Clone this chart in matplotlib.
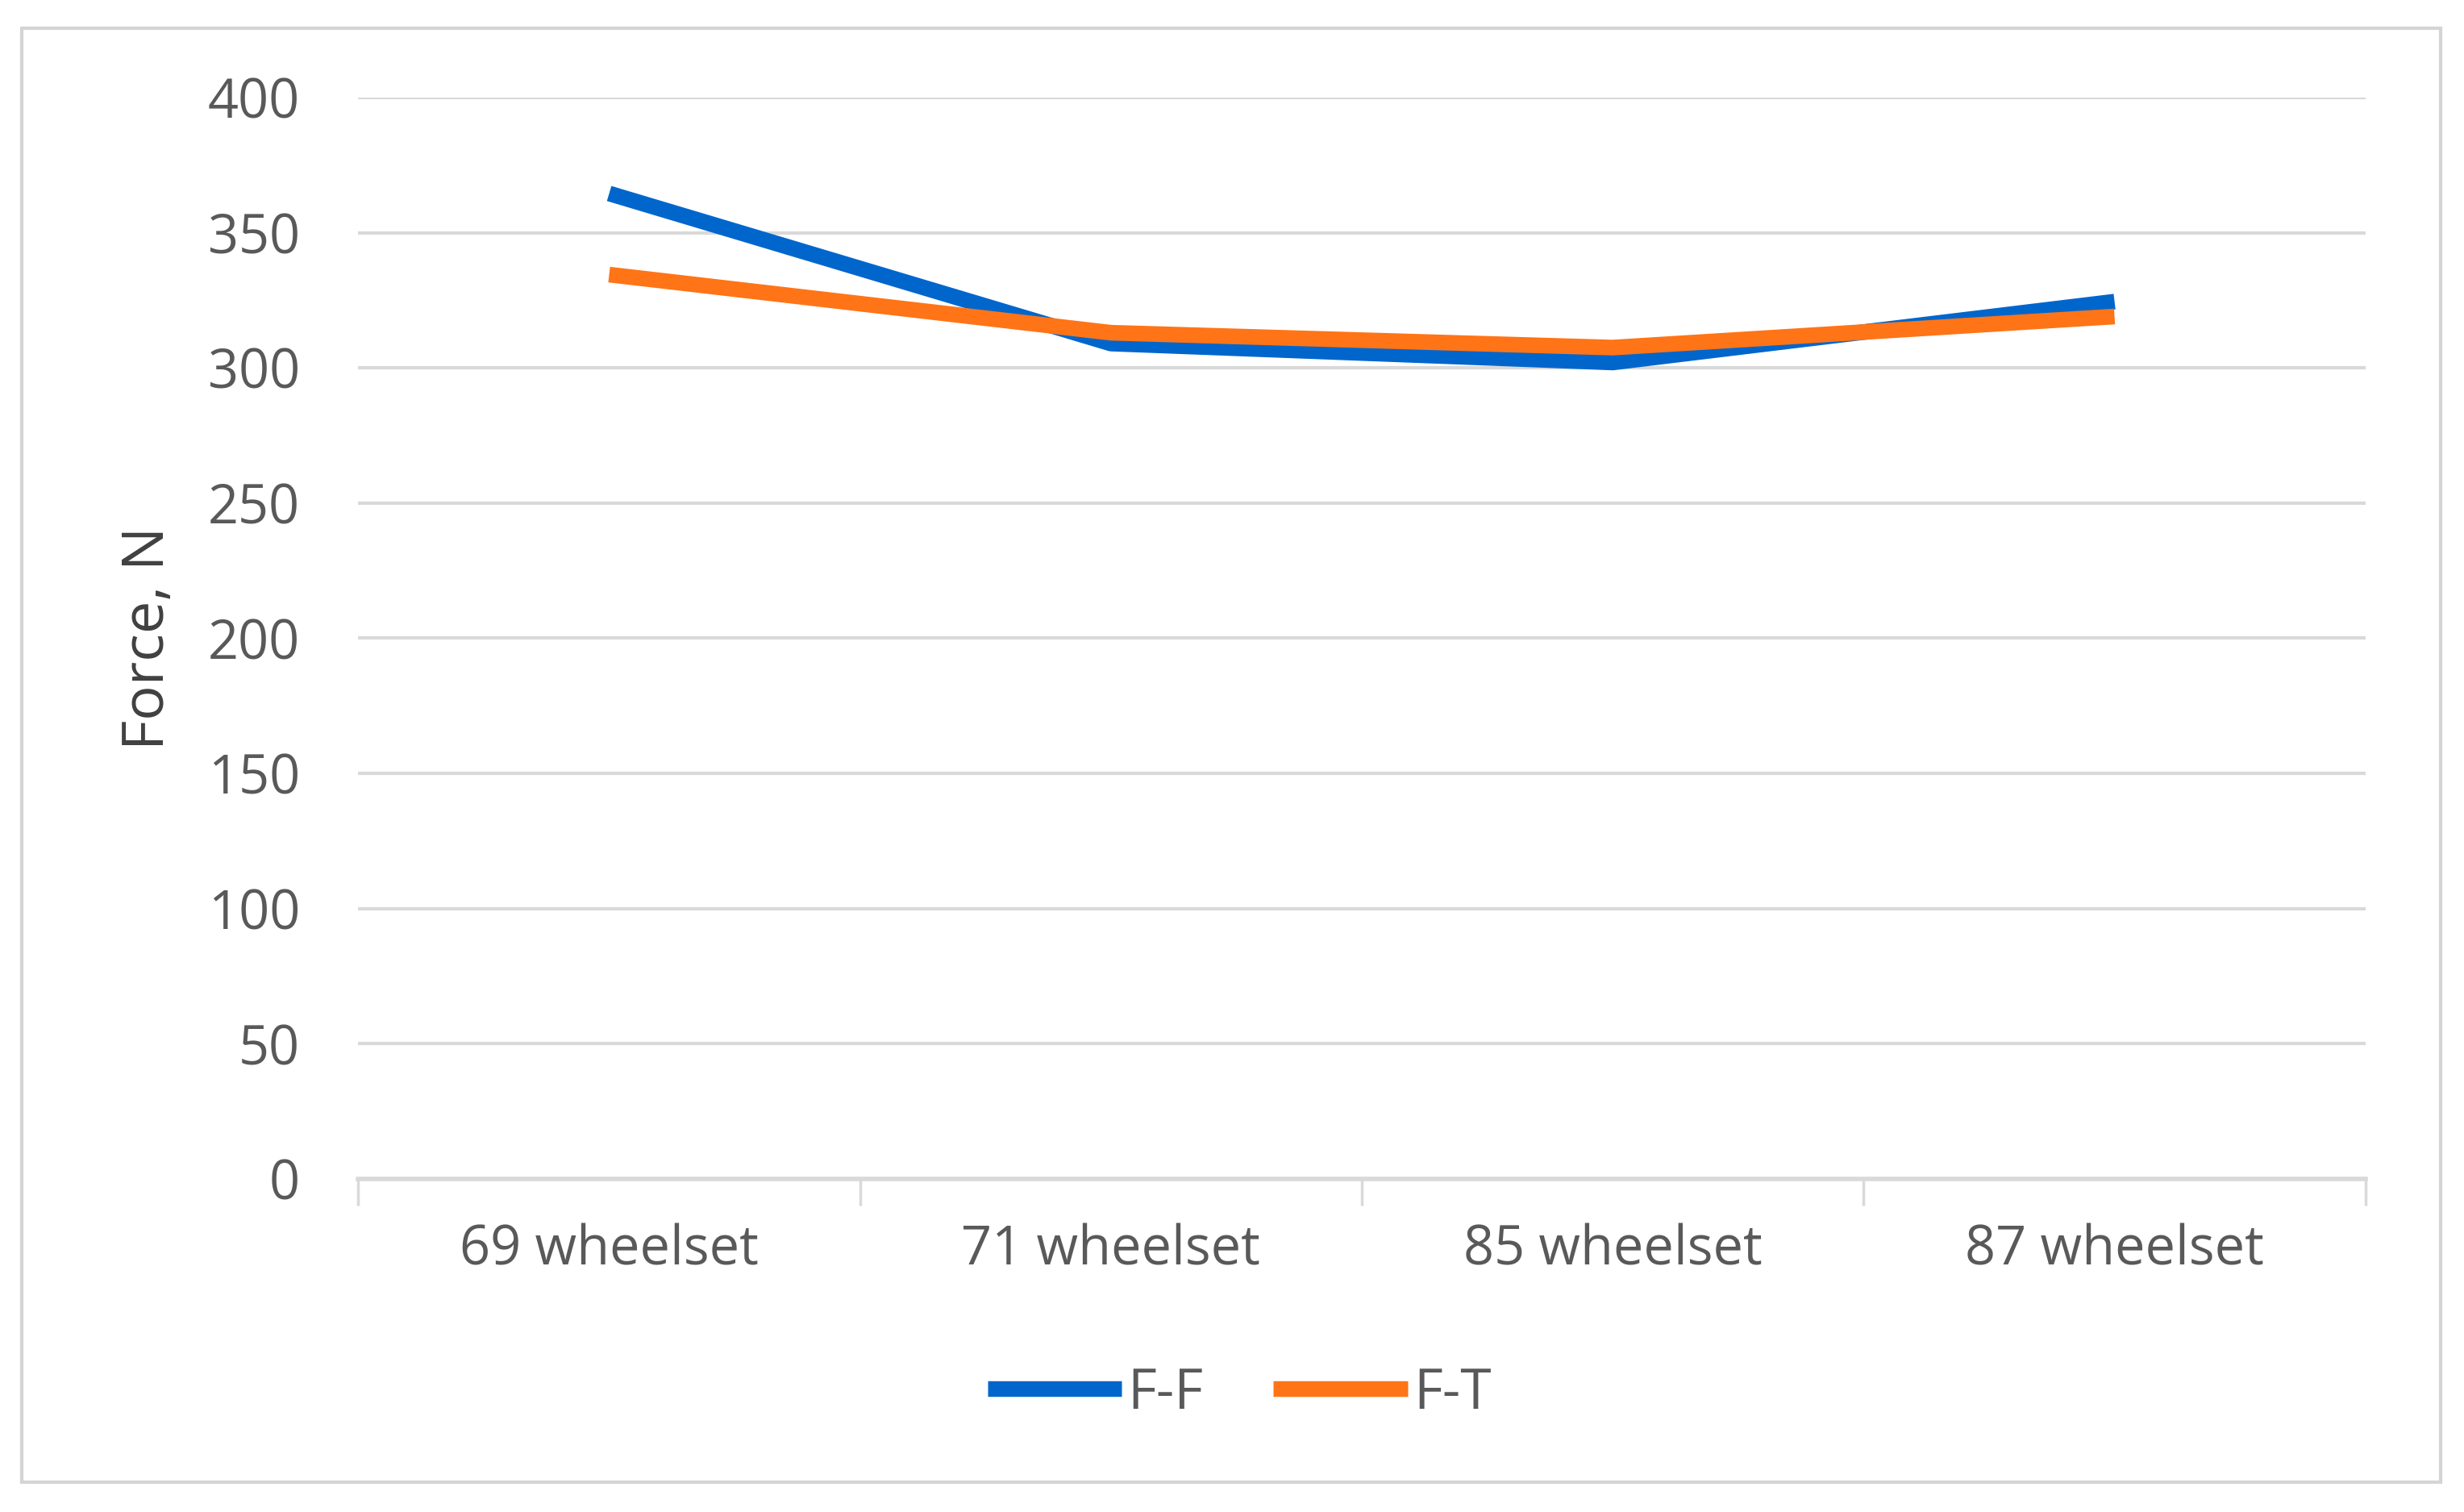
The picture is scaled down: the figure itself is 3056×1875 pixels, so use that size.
import matplotlib
matplotlib.use('Agg')
import matplotlib.pyplot as plt
from matplotlib.patches import Rectangle

# chart values
categories = ['69 wheelset', '71 wheelset', '85 wheelset', '87 wheelset']
ff_values = [364.5, 309.0, 302.0, 324.5]
ft_values = [334.5, 313.0, 307.5, 319.0]
y_ticks = [0, 50, 100, 150, 200, 250, 300, 350, 400]

blue = '#0066CC'
orange = '#FF7417'
grid_grey = '#D9D9D9'
text_grey = '#595959'

plt.rcParams['font.family'] = ['Open Sans', 'DejaVu Sans']

fig = plt.figure(figsize=(30.56, 18.75), dpi=100)

# outer chart frame
frame = Rectangle((0.0089, 0.0197), 0.9815, 0.9616, transform=fig.transFigure,
                  fill=False, edgecolor='#D4D4D4', linewidth=3, zorder=0)
fig.patches.append(frame)

ax = fig.add_axes([0.1454, 0.2203, 0.8146, 0.7152])

x = list(range(len(categories)))
ax.plot(x, ff_values, color=blue, linewidth=14, solid_capstyle='butt', label='F-F', zorder=3)
ax.plot(x, ft_values, color=orange, linewidth=14, solid_capstyle='butt', label='F-T', zorder=4)

ax.set_xlim(-0.5, len(categories) - 0.5)
ax.set_ylim(0, 400)
ax.set_yticks(y_ticks)
ax.set_yticklabels([str(v) for v in y_ticks])
ax.tick_params(axis='y', length=0, pad=52, labelsize=48, labelcolor=text_grey)

# category boundaries get the tick marks, centers get the labels
ax.set_xticks([i - 0.5 for i in range(len(categories) + 1)])
ax.set_xticklabels([])
ax.tick_params(axis='x', which='major', length=24, width=2.5, color=grid_grey, direction='out')
ax.set_xticks(x, minor=True)
ax.set_xticklabels(categories, minor=True)
ax.tick_params(axis='x', which='minor', length=0, pad=40, labelsize=48, labelcolor=text_grey)

ax.grid(axis='y', color=grid_grey, linewidth=3)
ax.set_axisbelow(True)
for side in ['top', 'right', 'left']:
    ax.spines[side].set_visible(False)
ax.spines['bottom'].set_color(grid_grey)
ax.spines['bottom'].set_linewidth(4)

ax.set_ylabel('Force, N', fontsize=52, color='#404040')
ax.yaxis.set_label_coords(-0.090, 0.5)

fig.legend(loc='center', bbox_to_anchor=(0.503, 0.078), ncol=2, frameon=False,
           fontsize=50, handlelength=2.4, handletextpad=0.1, columnspacing=1.25,
           labelcolor=text_grey)

fig.savefig('out.png', dpi=100, facecolor='white')
